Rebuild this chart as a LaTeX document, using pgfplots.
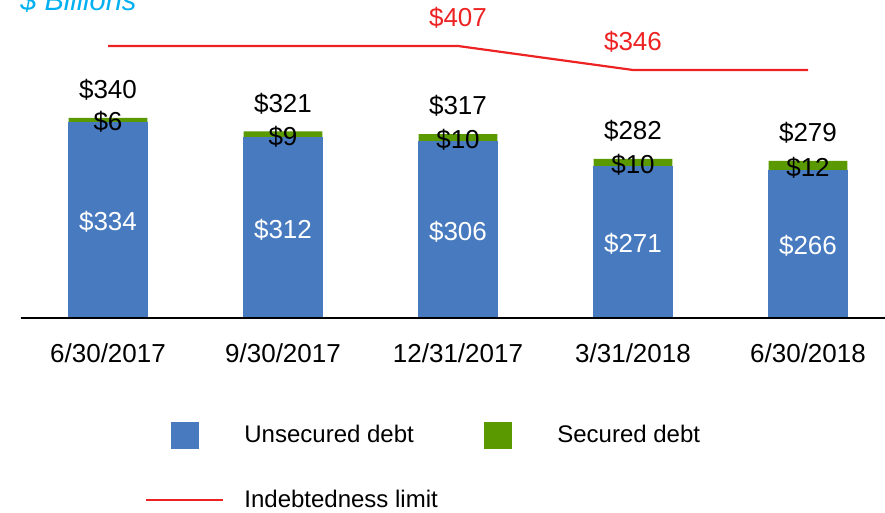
\documentclass[border=0pt]{standalone}
\usepackage{fontspec}
\setmainfont{Liberation Sans}
\usepackage{pgfplots}
\usepackage{pgfplotstable}
\pgfplotsset{compat=1.18}
\definecolor{barblue}{RGB}{71,122,191}
\definecolor{bargreen}{RGB}{90,154,0}
\definecolor{linered}{RGB}{237,35,35}
\definecolor{titlecyan}{RGB}{0,176,240}
\newcommand{\lbl}{\fontsize{13}{15}\selectfont}
\pgfplotstableread{
x u s t
0 334 6 340
1 312 9 321
2 306 10 317
3 271 10 282
4 266 12 279
}\debt
\pgfplotstableread{
x y
0 407
1 407
2 407
3 346
4 346
}\limit
\pgfplotstableread{
x y l
2 407 407
3 346 346
}\limitlbl
\begin{document}
\begin{tikzpicture}
\begin{axis}[
  at={(0,0)}, anchor=south west, scale only axis,
  width=437.5pt, height=149pt,
  xmin=-0.5, xmax=4.5, ymin=56, ymax=479,
  axis x line*=bottom, axis y line=none,
  x axis line style={line width=1pt, black, -},
  xtick={0,1,2,3,4},
  xticklabels={6/30/2017, 9/30/2017, 12/31/2017, 3/31/2018, 6/30/2018},
  xtick style={draw=none}, ytick=\empty,
  xticklabel style={font=\lbl, anchor=center, yshift=-17.5pt},
  axis on top,
  legend columns=2,
  legend cell align=left,
  legend style={at={(axis description cs:0.14229,-0.3473)}, anchor=north west,
    draw=none, fill=none, inner sep=0pt, font=\fontsize{12}{14}\selectfont,
    nodes={inner sep=0pt}, row sep=19pt,
    /tikz/every even column/.append style={column sep=10.75pt}},
]
\addplot[ybar, bar width=0.45, bar shift=0pt, fill=bargreen, draw=none, forget plot] table[x=x, y=t] {\debt};
\addplot[ybar, bar width=0.45, bar shift=0pt, fill=barblue, draw=barblue, line width=0.5pt, forget plot] table[x=x, y=u] {\debt};
% labels
\addplot[draw=none, mark=none, forget plot, nodes near coords={\$\pgfplotspointmeta}, point meta=explicit symbolic,
  nodes near coords style={anchor=center, text=white, font=\lbl, yshift=-1pt}]
  table[x=x, y expr={(\thisrow{u}+56)/2}, meta=u] {\debt};
\addplot[draw=none, mark=none, forget plot, nodes near coords={\$\pgfplotspointmeta}, point meta=explicit symbolic,
  nodes near coords style={anchor=center, text=black, font=\lbl, yshift=-1pt}]
  table[x=x, y expr={(\thisrow{u}+\thisrow{t})/2}, meta=s] {\debt};
\addplot[draw=none, mark=none, forget plot, nodes near coords={\$\pgfplotspointmeta}, point meta=explicit symbolic,
  nodes near coords style={anchor=center, text=black, font=\lbl, yshift=14pt}]
  table[x=x, y=t, meta=t] {\debt};
\addlegendimage{legend image code/.code={\path[draw=none, fill=none] (0pt,-6.75pt) rectangle (49pt,6.75pt); \fill[barblue] (12.5pt,-6.5pt) rectangle (26pt,6.5pt);}}
\addlegendentry{Unsecured debt}
\addlegendimage{legend image code/.code={\path[draw=none, fill=none] (0pt,-6.75pt) rectangle (49pt,6.75pt); \fill[bargreen] (12.5pt,-6.5pt) rectangle (26pt,6.5pt);}}
\addlegendentry{Secured debt}
\addlegendimage{legend image code/.code={\path[draw=none, fill=none] (0pt,-6.75pt) rectangle (49pt,6.75pt); \draw[linered, line width=1pt] (0pt,0pt) -- (38.5pt,0pt);}}
\addlegendentry{Indebtedness limit}
\end{axis}
\begin{axis}[
  at={(0,0)}, anchor=south west, scale only axis,
  width=437.5pt, height=149pt,
  xmin=-0.5, xmax=4.5, ymin=-284.4, ymax=473.1,
  hide axis, clip=false,
]
\addplot[linered, line width=1.1pt, mark=none] table[x=x, y=y] {\limit};
\addplot[draw=none, mark=none, nodes near coords={\$\pgfplotspointmeta}, point meta=explicit symbolic,
  nodes near coords style={anchor=center, text=linered, font=\lbl, yshift=14pt}]
  table[x=x, y=y, meta=l] {\limitlbl};
\end{axis}
\node[anchor=base west, font=\fontsize{14.5}{17}\selectfont\itshape, text=titlecyan, inner sep=0pt] at (-0.25pt,153.75pt) {\$ Billions};
\pgfresetboundingbox
\path[use as bounding box] (-10.25pt,-97.5pt) rectangle (432.25pt,159pt);
\end{tikzpicture}
\end{document}
